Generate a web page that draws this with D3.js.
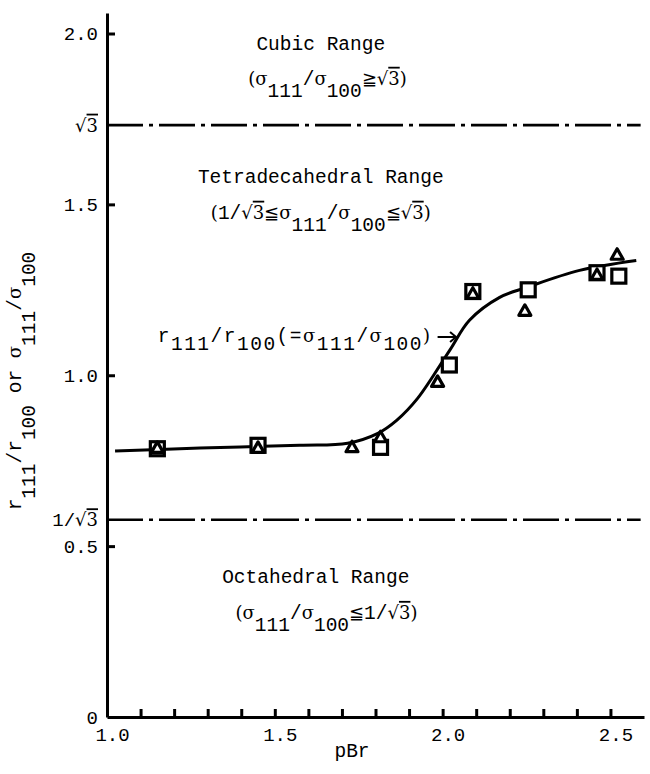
<!DOCTYPE html>
<html>
<head>
<meta charset="utf-8">
<script src="https://cdn.jsdelivr.net/npm/d3@7"></script>
<style>
  body { margin: 0; background: #fff; }
  svg { display: block; }
  .axis path, .axis line { stroke: #000; stroke-width: 3; }
  .axis text { font-family: "Liberation Mono", monospace; font-size: 19px; fill: #000; }
  .lbl { font-family: "Liberation Mono", monospace; font-size: 19.5px; fill: #000; }
  .sym { font-family: "DejaVu Serif", "Liberation Serif", serif; font-size: 18px; }
</style>
</head>
<body>
<div id="chart"></div>
<script>
(function () {

  // values
  var squarePBr   = [1.15, 1.45, 1.815, 2.02, 2.09, 2.255, 2.46, 2.525]
  var squareRatio = [0.785, 0.795, 0.789, 1.03, 1.245, 1.25, 1.30, 1.29]

  var trianglePBr   = [1.15, 1.45, 1.73, 1.815, 1.985, 2.09, 2.245, 2.46, 2.52]
  var triangleRatio = [0.789, 0.789, 0.791, 0.82, 0.982, 1.24, 1.19, 1.295, 1.354]

  // the drawn-in curve r111/r100
  var curvePBr   = [1.024, 1.277, 1.574, 1.717, 1.807, 1.863, 1.926, 2.021, 2.080, 2.170, 2.250, 2.408, 2.577]
  var curveRatio = [0.778, 0.787, 0.795, 0.801, 0.830, 0.868, 0.933, 1.073, 1.161, 1.228, 1.257, 1.307, 1.336]

  var xTicks  = [1.0, 1.1, 1.2, 1.3, 1.4, 1.5, 1.6, 1.7, 1.8, 1.9, 2.0, 2.1, 2.2, 2.3, 2.4, 2.5]
  var xLabels = [1.0, 1.5, 2.0, 2.5]
  var yTicks  = [0.5, 1.0, 1.5, 2.0]
  var yLabels = [0, 1 / Math.sqrt(3), 0.5, 1.0, 1.5, Math.sqrt(3), 2.0]

  // boundaries between crystal habits
  var boundaries = [Math.sqrt(3), 1 / Math.sqrt(3)]

  var width = 650, height = 774

  var svg = d3.select("#chart").append("svg")
    .attr("width", width)
    .attr("height", height)

  var x = d3.scaleLinear().domain([1.0, 2.6]).range([107, 644])
  var y = d3.scaleLinear().domain([0, 2.06]).range([717, 13])

  // writes text with subscripts as tspans
  function rich(sel, parts, shift) {
    var level = 0
    parts.forEach(function (p) {
      var lv = p.sub ? 1 : 0
      var ts = sel.append("tspan").text(p.t)
      if (lv !== level) ts.attr("dy", (lv - level) * shift)
      level = lv
      if (p.sym) ts.attr("class", "sym")
      if (p.over) ts.style("text-decoration", "overline")
    })
  }

  var root3 = [{ t: "√", sym: 1 }, { t: "3", sym: 1, over: 1 }]

  // axes
  var xAxis = d3.axisBottom(x)
    .tickValues(xTicks)
    .tickSizeInner(-8)
    .tickSizeOuter(0)
    .tickPadding(11)
    .tickFormat(function (d) {
      return xLabels.some(function (v) { return Math.abs(v - d) < 1e-6 }) ? d.toFixed(1) : ""
    })

  svg.append("g")
    .attr("class", "axis x-axis")
    .attr("transform", "translate(0," + y(0) + ")")
    .call(xAxis)
    .selectAll("text").attr("dx", 5)

  var yAxis = d3.axisLeft(y)
    .tickValues(yLabels)
    .tickSizeInner(-8)
    .tickSizeOuter(0)
    .tickPadding(9)
    .tickFormat(function (d) { return d === 0 ? "0" : d.toFixed(1) })

  var yg = svg.append("g")
    .attr("class", "axis y-axis")
    .attr("transform", "translate(" + x(1.0) + ",0)")
    .call(yAxis)

  yg.selectAll(".tick").each(function (d) {
    var t = d3.select(this)
    if (yTicks.indexOf(d) < 0) t.select("line").remove()
    if (Math.abs(d - Math.sqrt(3)) < 1e-6) {
      var tx = t.select("text").text("")
      rich(tx, root3, 0)
    }
    if (Math.abs(d - 1 / Math.sqrt(3)) < 1e-6) {
      var tx2 = t.select("text").text("")
      rich(tx2, [{ t: "1/" }].concat(root3), 0)
    }
  })

  // dash-dot boundaries
  svg.selectAll(".boundary")
    .data(boundaries)
    .enter().append("line")
    .attr("class", "boundary")
    .attr("x1", x(1.0))
    .attr("x2", x(2.59))
    .attr("y1", function (d) { return y(d) })
    .attr("y2", function (d) { return y(d) })
    .attr("stroke", "#000")
    .attr("stroke-width", 2.6)
    .attr("stroke-dasharray", "36,6,4,6")

  // curve
  var line = d3.line()
    .x(function (d) { return x(d[0]) })
    .y(function (d) { return y(d[1]) })
    .curve(d3.curveCatmullRom)

  svg.append("path")
    .datum(d3.zip(curvePBr, curveRatio))
    .attr("d", line)
    .attr("fill", "none")
    .attr("stroke", "#000")
    .attr("stroke-width", 3)

  // squares
  svg.selectAll(".sq")
    .data(d3.zip(squarePBr, squareRatio))
    .enter().append("rect")
    .attr("class", "sq")
    .attr("x", function (d) { return x(d[0]) - 7 })
    .attr("y", function (d) { return y(d[1]) - 7 })
    .attr("width", 14)
    .attr("height", 14)
    .attr("fill", "#fff")
    .attr("stroke", "#000")
    .attr("stroke-width", 3.2)

  // triangles
  svg.selectAll(".tri")
    .data(d3.zip(trianglePBr, triangleRatio))
    .enter().append("path")
    .attr("class", "tri")
    .attr("d", function (d) {
      var cx = x(d[0]), cy = y(d[1])
      return "M" + cx + "," + (cy - 5.5) + "L" + (cx + 6) + "," + (cy + 5) + "L" + (cx - 6) + "," + (cy + 5) + "Z"
    })
    .attr("fill", "#fff")
    .attr("stroke", "#000")
    .attr("stroke-width", 3.2)
    .attr("stroke-linejoin", "round")

  // region labels
  function label(px, py, parts, shift) {
    var t = svg.append("text")
      .attr("class", "lbl")
      .attr("x", x(px))
      .attr("y", y(py))
      .attr("text-anchor", "middle")
    rich(t, parts, shift || 0)
    return t
  }

  var sig111 = [{ t: "σ", sym: 1 }, { t: "111", sub: 1 }]
  var sig100 = [{ t: "σ", sym: 1 }, { t: "100", sub: 1 }]

  label(1.637, 1.952, [{ t: "Cubic Range" }])
  label(1.657, 1.850, [{ t: "(", sym: 1 }].concat(sig111, [{ t: "/" }], sig100,
    [{ t: "≧", sym: 1 }], root3, [{ t: ")", sym: 1 }]), 12)

  label(1.637, 1.562, [{ t: "Tetradecahedral Range" }])
  label(1.637, 1.458, [{ t: "(", sym: 1 }, { t: "1/" }].concat(root3, [{ t: "≦", sym: 1 }],
    sig111, [{ t: "/" }], sig100, [{ t: "≦", sym: 1 }], root3, [{ t: ")", sym: 1 }]), 12)

  label(1.622, 0.392, [{ t: "Octahedral Range" }])
  label(1.654, 0.287, [{ t: "(", sym: 1 }].concat(sig111, [{ t: "/" }], sig100,
    [{ t: "≦", sym: 1 }, { t: "1/" }], root3, [{ t: ")", sym: 1 }]), 12)

  // curve annotation with arrow
  var note = svg.append("text")
    .attr("class", "lbl")
    .attr("x", x(1.967))
    .attr("y", y(1.097))
    .attr("text-anchor", "end")
    .style("letter-spacing", "1.5px")
  rich(note, [{ t: "r" }, { t: "111", sub: 1 }, { t: "/r" }, { t: "100", sub: 1 }, { t: "(=" }]
    .concat(sig111, [{ t: "/" }], sig100, [{ t: ")", sym: 1 }]), 8)

  var ax0 = x(1.985), ax1 = x(2.04), ay = y(1.112)
  svg.append("path")
    .attr("d", "M" + ax0 + "," + ay + "H" + ax1 + "M" + (ax1 - 6) + "," + (ay - 5) + "L" + ax1 + "," + ay + "L" + (ax1 - 6) + "," + (ay + 5))
    .attr("fill", "none")
    .attr("stroke", "#000")
    .attr("stroke-width", 2)

  // axis titles
  svg.append("text")
    .attr("class", "lbl")
    .attr("x", 352)
    .attr("y", 757)
    .attr("text-anchor", "middle")
    .text("pBr")

  var yt = svg.append("text")
    .attr("class", "lbl")
    .attr("text-anchor", "middle")
    .attr("transform", "translate(21,381) rotate(-90)")
  rich(yt, [{ t: "r" }, { t: "111", sub: 1 }, { t: "/r" }, { t: "100", sub: 1 }, { t: " or " }]
    .concat(sig111, [{ t: "/" }], sig100), 14)

})()
</script>
</body>
</html>
